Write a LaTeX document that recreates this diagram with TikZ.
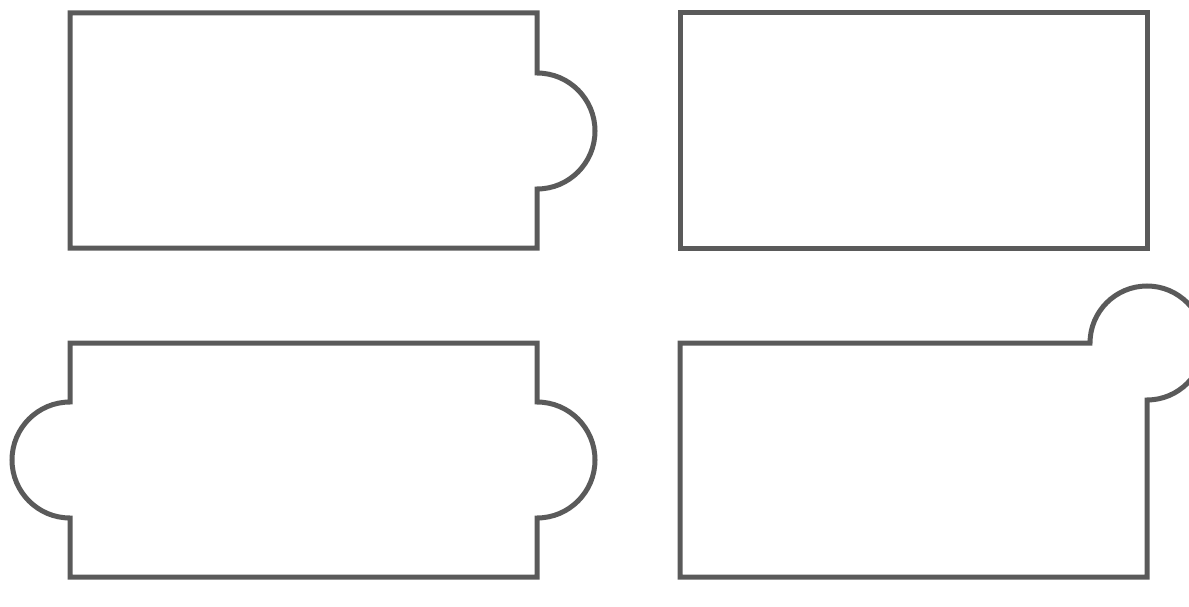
\documentclass[tikz,border=0pt]{standalone}
\begin{document}
\begin{tikzpicture}[x=1pt,y=-1pt,
  outline/.style={draw=shapegray,line width=5pt,line join=miter}]
\definecolor{shapegray}{HTML}{5A5A5A}
\useasboundingbox (0,0) rectangle (1189,607);
\clip (0,0) rectangle (1189,607);
% top-left: bump on right edge
\draw[outline] (70,13) -- (537,13) -- (537,73)
  arc[start angle=-90,end angle=90,radius=58] -- (537,248) -- (70,248) -- cycle;
% top-right: plain rectangle
\draw[outline] (680,13) rectangle (1147,248);
% bottom-left: bumps on both sides
\draw[outline] (70,343) -- (537,343) -- (537,402)
  arc[start angle=-90,end angle=90,radius=58] -- (537,577) -- (70,577) -- (70,518)
  arc[start angle=90,end angle=270,radius=58] -- cycle;
% bottom-right: circle bump at top-right corner
\draw[outline] (680,343) -- (1090,343)
  arc[start angle=180,end angle=450,radius=57] -- (1147,577) -- (680,577) -- cycle;
\end{tikzpicture}
\end{document}
